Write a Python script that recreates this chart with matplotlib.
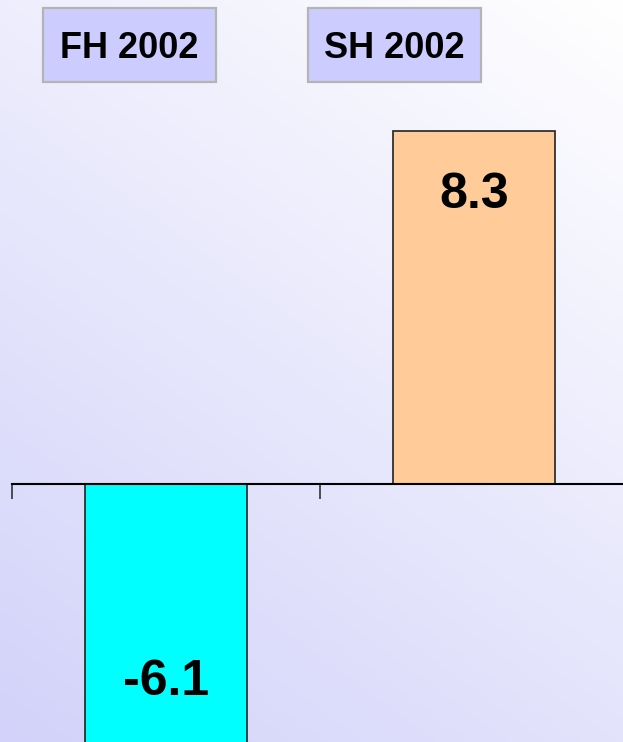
import numpy as np
import matplotlib
matplotlib.use("Agg")
from matplotlib import pyplot as plt
from matplotlib.patches import Rectangle

# data
periods = ['FH 2002', 'SH 2002']
values = [-6.1, 8.3]
bar_colors = ['#00ffff', '#ffcc99']

W, H = 623, 742
fig = plt.figure(figsize=(W / 100, H / 100), dpi=100)

# background: diagonal gradient lavender -> white
bg = fig.add_axes([0, 0, 1, 1], zorder=0)
xx, yy = np.meshgrid(np.arange(W), np.arange(H))
s = 0.73 * xx - yy
t = (s - s.min()) / (s.max() - s.min())
dark = np.array([210, 210, 250]) / 255
light = np.array([255, 255, 255]) / 255
img = dark[None, None, :] + t[:, :, None] * (light - dark)[None, None, :]
bg.imshow(img, aspect='auto', extent=[0, W, H, 0])
bg.set_axis_off()

# main axes
ax = fig.add_axes([0, 0, 1, 1], zorder=1)
ax.patch.set_alpha(0)
x = np.arange(len(periods))
ax.bar(x, values, width=0.526, color=bar_colors, edgecolor='#222222', linewidth=1.2, zorder=2)

x0, x1 = -166 / 308, (W - 166) / 308
ax.set_xlim(x0, x1)
ax.set_ylim(-(H - 484) / 42.5, 484 / 42.5)

for sp in ['top', 'right', 'left']:
    ax.spines[sp].set_visible(False)
ax.spines['bottom'].set_position(('data', 0))
ax.spines['bottom'].set_bounds(-0.5, len(periods) - 0.5)
ax.spines['bottom'].set_linewidth(1.5)
ax.spines['bottom'].set_zorder(3)
ticks = np.arange(len(periods) + 1) - 0.5
ax.set_xticks(ticks[ticks < x1])
ax.set_xticklabels([])
ax.tick_params(axis='x', direction='out', length=11, width=1.2, color='#333333')
ax.set_yticks([])

font = ['Liberation Sans Narrow', 'Liberation Sans', 'DejaVu Sans']

# value labels inside bars
for xi, v in zip(x, values):
    ypos = v - 1.5 if v > 0 else v + 1.45
    ax.text(xi, ypos, f'{v:.1f}', ha='center', va='center', fontsize=36,
            fontweight='bold', family=font, zorder=4)

# title boxes
box_pos = [(43, 8), (308, 8)]
for (bx, by), lab in zip(box_pos, periods):
    fig.patches.append(Rectangle((bx / W, 1 - (by + 74) / H), 173 / W, 74 / H,
                                 transform=fig.transFigure, facecolor='#ccccff',
                                 edgecolor='#b4b4b4', linewidth=1.6, zorder=5))
    fig.text((bx + 86.5) / W, 1 - (by + 41) / H, lab, ha='center', va='center',
             fontsize=26, fontweight='bold', family=font, zorder=6)

fig.savefig('out.png', dpi=100)
